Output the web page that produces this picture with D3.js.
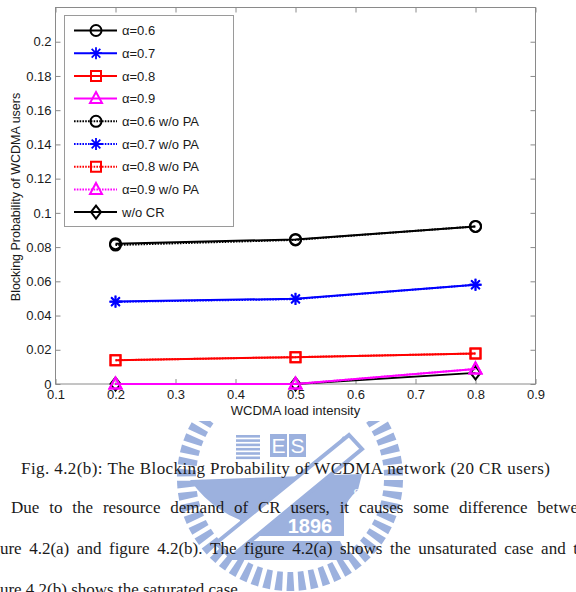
<!DOCTYPE html>
<html>
<head>
<meta charset="utf-8">
<script src="https://cdn.jsdelivr.net/npm/d3@7"></script>
<style>
    body { margin: 0; background: #fff; }
    svg { display: block; }
</style>
</head>
<body>
<div id="chart"></div>
<script>
// values
const loads = [0.2, 0.5, 0.8];
const alpha06 = [0.0820, 0.0845, 0.0921];
const alpha07 = [0.0482, 0.0498, 0.0580];
const alpha08 = [0.0139, 0.0157, 0.0178];
const alpha09 = [0, 0, 0.0088];
const alpha06NoPA = [0.0812, 0.0842, 0.0921];
const alpha07NoPA = [0.0480, 0.0496, 0.0580];
const alpha08NoPA = [0.0139, 0.0157, 0.0178];
const alpha09NoPA = [0, 0, 0.0088];
const noCR = [0, 0, 0.0065];

const legendLabels = ["α=0.6", "α=0.7", "α=0.8", "α=0.9",
    "α=0.6 w/o PA", "α=0.7 w/o PA", "α=0.8 w/o PA", "α=0.9 w/o PA", "w/o CR"];
const xTicks = [0.1, 0.2, 0.3, 0.4, 0.5, 0.6, 0.7, 0.8, 0.9];
const yTicks = [0, 0.02, 0.04, 0.06, 0.08, 0.1, 0.12, 0.14, 0.16, 0.18, 0.2];

const captionText = "Fig. 4.2(b): The Blocking Probability of WCDMA network (20 CR users)";
const paragraphLines = [
    "Due to the resource demand of CR users, it causes some difference between",
    "figure 4.2(a) and figure 4.2(b). The figure 4.2(a) shows the unsaturated case and the",
    "figure 4.2(b) shows the saturated case."
];

// series in drawing order (w/o CR goes under the triangles)
const series = [
    {name: "w/o CR", values: noCR, color: "#000", marker: "diamond", dash: null},
    {name: "α=0.6 w/o PA", values: alpha06NoPA, color: "#000", marker: "circle", dash: "1.6,1.2"},
    {name: "α=0.7 w/o PA", values: alpha07NoPA, color: "#0000ff", marker: "star", dash: "1.6,1.2"},
    {name: "α=0.8 w/o PA", values: alpha08NoPA, color: "#ff0000", marker: "square", dash: "1.6,1.2"},
    {name: "α=0.9 w/o PA", values: alpha09NoPA, color: "#ff00ff", marker: "triangle", dash: "1.6,1.2"},
    {name: "α=0.6", values: alpha06, color: "#000", marker: "circle", dash: null},
    {name: "α=0.7", values: alpha07, color: "#0000ff", marker: "star", dash: null},
    {name: "α=0.8", values: alpha08, color: "#ff0000", marker: "square", dash: null},
    {name: "α=0.9", values: alpha09, color: "#ff00ff", marker: "triangle", dash: null}
];

const width = 576, height = 592;
const margin = {top: 7.5, right: 40.5, bottom: 208, left: 55.5};

const svg = d3.select("#chart").append("svg")
    .attr("width", width)
    .attr("height", height);

const x = d3.scaleLinear().domain([0.1, 0.9]).range([margin.left, width - margin.right]);
const y = d3.scaleLinear().domain([0, 0.22]).range([height - margin.bottom, margin.top]);

// ---------- watermark logo (drawn first, under the text) ----------
const logoBlue = "#9cb1de";
const cx = 290, cy = 478;

svg.append("clipPath").attr("id", "logoClip")
    .append("rect").attr("x", 0).attr("y", 421).attr("width", width).attr("height", height);

const logo = svg.append("g").attr("clip-path", "url(#logoClip)");

// radial bars round the seal
d3.range(0, 360, 6.2).forEach(a => {
    logo.append("path")
        .attr("d", "M-2.8,-94 L2.8,-94 L3.9,-113 L-3.9,-113 Z")
        .attr("fill", logoBlue)
        .attr("transform", `translate(${cx},${cy}) rotate(${a})`);
});

// striped block
d3.range(6).forEach(i => {
    logo.append("rect")
        .attr("x", 236).attr("y", 435 + i * 4.3)
        .attr("width", 24).attr("height", 2.6)
        .attr("fill", logoBlue);
});

// E and S boxes
[["E", 270], ["S", 289]].forEach(([ch, bx]) => {
    logo.append("rect")
        .attr("x", bx).attr("y", 434).attr("width", 17).attr("height", 23)
        .attr("fill", logoBlue);
    logo.append("text")
        .attr("x", bx + 8.5).attr("y", 453)
        .attr("text-anchor", "middle")
        .attr("font-family", "Liberation Sans, Arial, sans-serif")
        .attr("font-size", 21)
        .attr("fill", "#fff")
        .text(ch);
});

// tilted A box
const aBox = logo.append("g").attr("transform", "translate(345,451) rotate(35)");
aBox.append("rect").attr("x", -10).attr("y", -11).attr("width", 20).attr("height", 22).attr("fill", logoBlue);
aBox.append("text")
    .attr("y", 8).attr("text-anchor", "middle")
    .attr("font-family", "Liberation Sans, Arial, sans-serif")
    .attr("font-size", 21).attr("font-weight", "bold")
    .attr("fill", "#fff").text("A");

// anvil body and foot
logo.append("path")
    .attr("d", "M190,480 L362,474 L358,490 Q344,502 344,514 L344,536 L240,536 L240,520 Q210,508 190,480 Z")
    .attr("fill", logoBlue);
logo.append("path")
    .attr("d", "M226,560 L350,560 L340,541 L238,541 Z")
    .attr("fill", logoBlue);

// diagonal bar across the anvil
logo.append("path")
    .attr("d", "M216,543 L231,557 L362,449 L349,435 Z")
    .attr("fill", "#fff")
    .attr("stroke", logoBlue)
    .attr("stroke-width", 4);

logo.append("text")
    .attr("x", 310).attr("y", 533)
    .attr("text-anchor", "middle")
    .attr("font-family", "Liberation Sans, Arial, sans-serif")
    .attr("font-size", 20).attr("font-weight", "bold")
    .attr("fill", "#fff")
    .text("1896");

// small "8" knot on the right
logo.append("text")
    .attr("x", 357).attr("y", 499)
    .attr("text-anchor", "middle")
    .attr("font-family", "Liberation Serif, serif")
    .attr("font-size", 15)
    .attr("fill", "#fff")
    .text("8");

// ---------- axes ----------
const fmt = d => String(+d.toFixed(2));
const axisColor = "#8a8a8a";

function styleAxis(g) {
    g.select(".domain").remove();
    g.selectAll(".tick line").attr("stroke", axisColor);
    g.selectAll(".tick text")
        .attr("fill", "#1a1a1a")
        .attr("font-size", 13)
        .attr("font-family", "Liberation Sans, Arial, sans-serif");
}

svg.append("g")
    .attr("transform", `translate(0,${y(0)})`)
    .call(d3.axisBottom(x).tickValues(xTicks).tickFormat(fmt).tickSize(-5).tickPadding(6))
    .call(styleAxis);

svg.append("g")
    .attr("transform", `translate(0,${y(0.22)})`)
    .call(d3.axisTop(x).tickValues(xTicks).tickFormat("").tickSize(-5))
    .call(styleAxis);

svg.append("g")
    .attr("transform", `translate(${x(0.1)},0)`)
    .call(d3.axisLeft(y).tickValues(yTicks).tickFormat(fmt).tickSize(-5).tickPadding(4))
    .call(styleAxis);

svg.append("g")
    .attr("transform", `translate(${x(0.9)},0)`)
    .call(d3.axisRight(y).tickValues(yTicks).tickFormat("").tickSize(-5))
    .call(styleAxis);

// box
svg.append("rect")
    .attr("x", x(0.1)).attr("y", y(0.22))
    .attr("width", x(0.9) - x(0.1)).attr("height", y(0) - y(0.22))
    .attr("fill", "none")
    .attr("stroke", axisColor)
    .attr("stroke-width", 1);

// axis labels
svg.append("text")
    .attr("x", (x(0.1) + x(0.9)) / 2)
    .attr("y", 415)
    .attr("text-anchor", "middle")
    .attr("font-size", 13)
    .attr("font-family", "Liberation Sans, Arial, sans-serif")
    .attr("fill", "#1a1a1a")
    .text("WCDMA load intensity");

svg.append("text")
    .attr("transform", "translate(20,197) rotate(-90)")
    .attr("text-anchor", "middle")
    .attr("font-size", 12.5)
    .attr("font-family", "Liberation Sans, Arial, sans-serif")
    .attr("fill", "#1a1a1a")
    .text("Blocking Probability of WCDMA users");

// ---------- markers ----------
function markerPath(type) {
    if (type === "star") {
        const r = 6, q = r * 0.72;
        return `M0,${-r}V${r}M${-r},0H${r}M${-q},${-q}L${q},${q}M${-q},${q}L${q},${-q}`;
    }
    if (type === "square") return "M-5,-5H5V5H-5Z";
    if (type === "triangle") return "M0,-6.5L6,4.5H-6Z";
    if (type === "diamond") return "M0,-6.5L5,0L0,6.5L-5,0Z";
    return null;
}

function drawMarker(g, type, color) {
    if (type === "circle") {
        return g.append("circle").attr("r", 5.5)
            .attr("fill", "none").attr("stroke", color).attr("stroke-width", 2);
    }
    return g.append("path").attr("d", markerPath(type))
        .attr("fill", "none").attr("stroke", color)
        .attr("stroke-width", type === "star" ? 1.8 : 2);
}

// ---------- lines ----------
const line = d3.line()
    .x((d, i) => x(loads[i]))
    .y(d => y(d));

series.forEach(s => {
    svg.append("path")
        .datum(s.values)
        .attr("d", line)
        .attr("fill", "none")
        .attr("stroke", s.color)
        .attr("stroke-width", 2)
        .attr("stroke-dasharray", s.dash);

    s.values.forEach((v, i) => {
        const g = svg.append("g").attr("transform", `translate(${x(loads[i])},${y(v)})`);
        drawMarker(g, s.marker, s.color);
    });
});

// ---------- legend ----------
const legend = svg.append("g");
legend.append("rect")
    .attr("x", 64.5).attr("y", 15.5)
    .attr("width", 169).attr("height", 211)
    .attr("fill", "#fff")
    .attr("stroke", "#9a9a9a");

legendLabels.forEach((label, i) => {
    const s = series.find(d => d.name === label);
    const ly = 30.5 + i * 22.7;
    legend.append("line")
        .attr("x1", 74).attr("x2", 117)
        .attr("y1", ly).attr("y2", ly)
        .attr("stroke", s.color)
        .attr("stroke-width", 2)
        .attr("stroke-dasharray", s.dash);
    drawMarker(legend.append("g").attr("transform", `translate(96,${ly})`), s.marker, s.color);
    legend.append("text")
        .attr("x", 122).attr("y", ly + 4.6)
        .attr("font-size", 13)
        .attr("font-family", "Liberation Sans, Arial, sans-serif")
        .attr("fill", "#1a1a1a")
        .text(label);
});

// ---------- caption and body text ----------
svg.append("text")
    .attr("x", 21).attr("y", 474)
    .attr("font-size", 17)
    .attr("font-family", "Liberation Serif, Times New Roman, serif")
    .attr("fill", "#1a1a1a")
    .attr("textLength", 529)
    .attr("lengthAdjust", "spacing")
    .text(captionText);

// justified lines: place each word so the line fills x0..x1
function justifyLine(text, x0, x1, yPos, justify) {
    const words = text.split(" ");
    const nodes = words.map(w => svg.append("text")
        .attr("y", yPos)
        .attr("font-size", 17)
        .attr("font-family", "Liberation Serif, Times New Roman, serif")
        .attr("fill", "#1a1a1a")
        .text(w));
    const widths = nodes.map(n => n.node().getComputedTextLength());
    const total = d3.sum(widths);
    const gap = justify ? (x1 - x0 - total) / (words.length - 1) : 4.25;
    let cur = x0;
    nodes.forEach((n, i) => {
        n.attr("x", cur);
        cur += widths[i] + gap;
    });
}

justifyLine(paragraphLines[0], 11, 594, 513, true);
justifyLine(paragraphLines[1], -19, 594, 554, true);
justifyLine(paragraphLines[2], -19, 0, 595, false);
</script>
</body>
</html>
